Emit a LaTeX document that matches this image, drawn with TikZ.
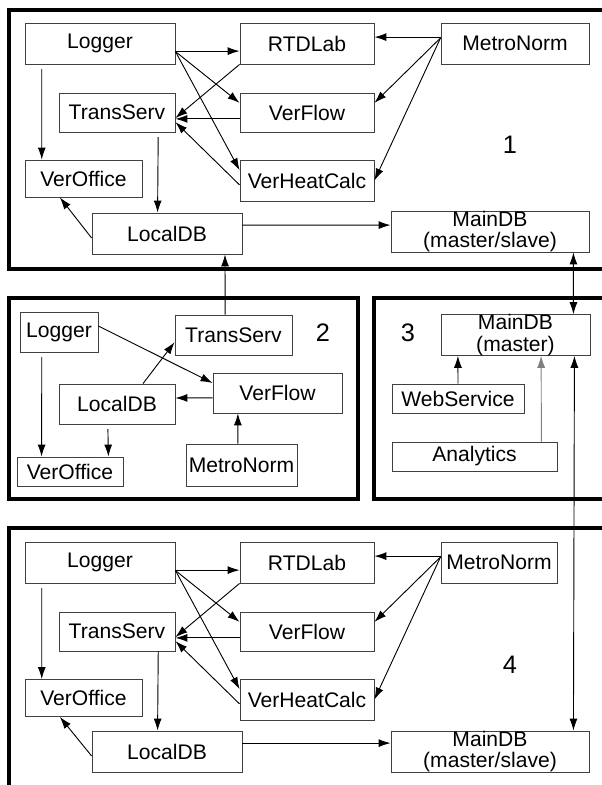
\documentclass[tikz,border=0pt]{standalone}
\usepackage{fontspec}
\setmainfont{Liberation Sans}
\usetikzlibrary{positioning}
\usetikzlibrary{arrows.meta}

\begin{document}
\begin{tikzpicture}[x=0.025cm, y=-0.025cm,
	box/.style={draw=black!75, line width=0.6pt, fill=white, inner sep=0pt, minimum height=1.025cm, align=center, font=\fontsize{15}{15}\selectfont},
	panel/.style={draw=black, line width=2.2pt},
	arr/.style={-{Latex[length=3mm,width=2mm]}, line width=0.65pt},
	darr/.style={{Latex[length=3mm,width=2mm]}-{Latex[length=3mm,width=2mm]}, line width=0.65pt},
	gap/.style={shorten <=0.12cm},
	num/.style={font=\fontsize{18}{18}\selectfont},
	]
	\useasboundingbox (0,0) rectangle (601,785);
	%Panels
	\draw[panel] (9,10) rectangle (615,269);
	\draw[panel] (9,298) rectangle (358,499);
	\draw[panel] (374,298) rectangle (615,499);
	\draw[panel] (9,528) rectangle (615,800);
	
	%Nodes 1
	\node[box, minimum width=3.75cm]      (log1) 	at 	(100,43.5)      {Logger};
	\node[box, minimum width=3.35cm]      (rtd1) 	at 	(307,43.5)      {RTDLab};
	\node[box, minimum width=3.7cm]       (met1) 	at 	(515,43.5)      {MetroNorm};
	\node[box, minimum width=2.9cm, minimum height=0.975cm]   (trs1) 	at 	(117,112.5)     {TransServ};
	\node[box, minimum width=3.35cm, minimum height=0.975cm]  (vfl1) 	at 	(307,112.5)     {VerFlow};
	\node[box, minimum width=2.925cm, minimum height=0.925cm] (vof1) 	at 	(83.5,178.5)    {VerOffice};
	\node[box, minimum width=3.35cm]      (vhc1) 	at 	(307,180.5)     {VerHeatCalc};
	\node[box, minimum width=3.75cm]      (ldb1) 	at 	(167,233.5)     {LocalDB};
	\node[box, minimum width=4.95cm]      (mdb1) 	at 	(490,231.5)     {MainDB\\(master/slave)};
	\node[num]                            (lab1) 	at 	(510,145)       {1};
	
	%Nodes 2
	\node[box, minimum width=1.95cm, minimum height=1cm]     (log2) 	at 	(59,332)        {Logger};
	\node[box, minimum width=2.925cm, minimum height=1cm]    (trs2) 	at 	(233.5,335)     {TransServ};
	\node[box, minimum width=3.225cm, minimum height=1cm]    (vfl2) 	at 	(277.5,393)     {VerFlow};
	\node[box, minimum width=2.9cm, minimum height=1cm]      (ldb2) 	at 	(117,404)       {LocalDB};
	\node[box, minimum width=2.65cm, minimum height=0.725cm] (vof2) 	at 	(70,471.5)      {VerOffice};
	\node[box, minimum width=2.775cm, minimum height=1.05cm] (met2) 	at 	(241.5,465)     {MetroNorm};
	\node[num]                            (lab2) 	at 	(323,333)       {2};
	
	%Nodes 3
	\node[box, minimum width=3.725cm, minimum height=1cm]    (mdb3) 	at 	(515.5,335)     {MainDB\\(master)};
	\node[box, minimum width=3.3cm, minimum height=0.725cm]  (web3) 	at 	(458,398.5)     {WebService};
	\node[box, minimum width=4.125cm, minimum height=0.725cm] (ana3) 	at 	(474.5,456.5)   {Analytics};
	\node[num]                            (lab3) 	at 	(408,333)       {3};
	
	%Nodes 4
	\node[box, minimum width=3.75cm]      (log4) 	at 	(100,562.5)     {Logger};
	\node[box, minimum width=3.35cm]      (rtd4) 	at 	(307,562.5)     {RTDLab};
	\node[box, minimum width=2.9cm]       (met4) 	at 	(499,562.5)     {MetroNorm};
	\node[box, minimum width=2.9cm, minimum height=0.975cm]   (trs4) 	at 	(117,631.5)     {TransServ};
	\node[box, minimum width=3.35cm, minimum height=0.975cm]  (vfl4) 	at 	(307,631.5)     {VerFlow};
	\node[box, minimum width=2.925cm, minimum height=0.925cm] (vof4) 	at 	(83.5,698)      {VerOffice};
	\node[box, minimum width=3.35cm]      (vhc4) 	at 	(307,699.5)     {VerHeatCalc};
	\node[box, minimum width=3.75cm]      (ldb4) 	at 	(167,751.5)     {LocalDB};
	\node[box, minimum width=4.95cm]      (mdb4) 	at 	(490,751.5)     {MainDB\\(master/slave)};
	\node[num]                            (lab4) 	at 	(510,665)       {4};
	
	%Lines 1
	\draw[arr] ([yshift=-0.19cm]log1.east) -- ([yshift=-0.19cm]rtd1.west);
	\draw[arr] ([yshift=-0.2cm]log1.east) -- ([yshift=0.24cm]vfl1.west);
	\draw[arr] ([yshift=-0.2cm]log1.east) -- ([yshift=0.26cm]vhc1.west);
	\draw[arr, gap] ([xshift=0.43cm]log1.south west) -- ([xshift=0.43cm]vof1.north west);
	\draw[arr] (rtd1.south west) -- ([yshift=-0.14cm]trs1.east);
	\draw[arr] ([yshift=-0.16cm]vfl1.west) -- ([yshift=-0.16cm]trs1.east);
	\draw[arr] ([yshift=-0.11cm]vhc1.west) -- ([yshift=-0.24cm]trs1.east);
	\draw[arr, gap] ([xshift=-0.43cm]trs1.south east) -- ([xshift=1.65cm]ldb1.north west);
	\draw[arr] ([yshift=-0.11cm]ldb1.west) -- ([xshift=-0.59cm]vof1.south);
	\draw[arr] ([yshift=0.21cm]ldb1.east) -- ([yshift=0.16cm]mdb1.west);
	\draw[arr] ([yshift=0.16cm]met1.west) -- ([yshift=0.16cm]rtd1.east);
	\draw[arr] ([yshift=0.14cm]met1.west) -- ([yshift=0.24cm]vfl1.east);
	\draw[arr] ([yshift=0.14cm]met1.west) -- (vhc1.east);
	
	%Lines 2
	\draw[arr] ([yshift=0.15cm]log2.east) -- ([yshift=0.25cm]vfl2.west);
	\draw[arr] ([xshift=0.65cm]ldb2.north) -- ([yshift=0.33cm]trs2.south west);
	\draw[arr] ([yshift=-0.12cm]vfl2.west) -- ([yshift=0.15cm]ldb2.east);
	\draw[arr, gap] ([xshift=-0.43cm]log2.south) -- ([xshift=0.625cm]vof2.north west);
	\draw[arr, gap] ([xshift=-0.23cm]ldb2.south) -- ([xshift=-0.375cm]vof2.north east);
	\draw[arr] ([xshift=-0.09cm]met2.north) -- ([xshift=-0.99cm]vfl2.south);
	
	%Lines 3
	\draw[arr] (web3.north) -- ([xshift=-1.44cm]mdb3.south);
	\draw[arr, draw=black!50] ([xshift=-0.4cm]ana3.north east) -- ([xshift=0.64cm]mdb3.south);
	
	%Lines 4
	\draw[arr] ([yshift=-0.19cm]log4.east) -- ([yshift=-0.19cm]rtd4.west);
	\draw[arr] ([yshift=-0.2cm]log4.east) -- ([yshift=0.24cm]vfl4.west);
	\draw[arr] ([yshift=-0.2cm]log4.east) -- ([yshift=0.26cm]vhc4.west);
	\draw[arr, gap] ([xshift=0.43cm]log4.south west) -- ([xshift=0.43cm]vof4.north west);
	\draw[arr] (rtd4.south west) -- ([yshift=-0.14cm]trs4.east);
	\draw[arr] ([yshift=-0.16cm]vfl4.west) -- ([yshift=-0.16cm]trs4.east);
	\draw[arr] ([yshift=-0.11cm]vhc4.west) -- ([yshift=-0.24cm]trs4.east);
	\draw[arr] ([xshift=-0.43cm]trs4.south east) -- ([xshift=1.65cm]ldb4.north west);
	\draw[arr] ([yshift=-0.11cm]ldb4.west) -- ([xshift=-0.59cm]vof4.south);
	\draw[arr] ([yshift=0.21cm]ldb4.east) -- ([yshift=0.21cm]mdb4.west);
	\draw[arr] ([yshift=0.16cm]met4.west) -- ([yshift=0.16cm]rtd4.east);
	\draw[arr] ([yshift=0.14cm]met4.west) -- ([yshift=0.24cm]vfl4.east);
	\draw[arr] ([yshift=0.14cm]met4.west) -- (vhc4.east);
	
	%Lines between panels
	\draw[arr] ([xshift=-0.21cm]trs2.north) -- ([xshift=1.45cm]ldb1.south);
	\draw[darr] ([xshift=-0.4cm]mdb1.south east) -- ([xshift=-0.425cm]mdb3.north east);
	\draw[darr] ([xshift=-0.4cm]mdb3.south east) -- ([xshift=-0.4cm]mdb4.north east);
\end{tikzpicture}
\end{document}
